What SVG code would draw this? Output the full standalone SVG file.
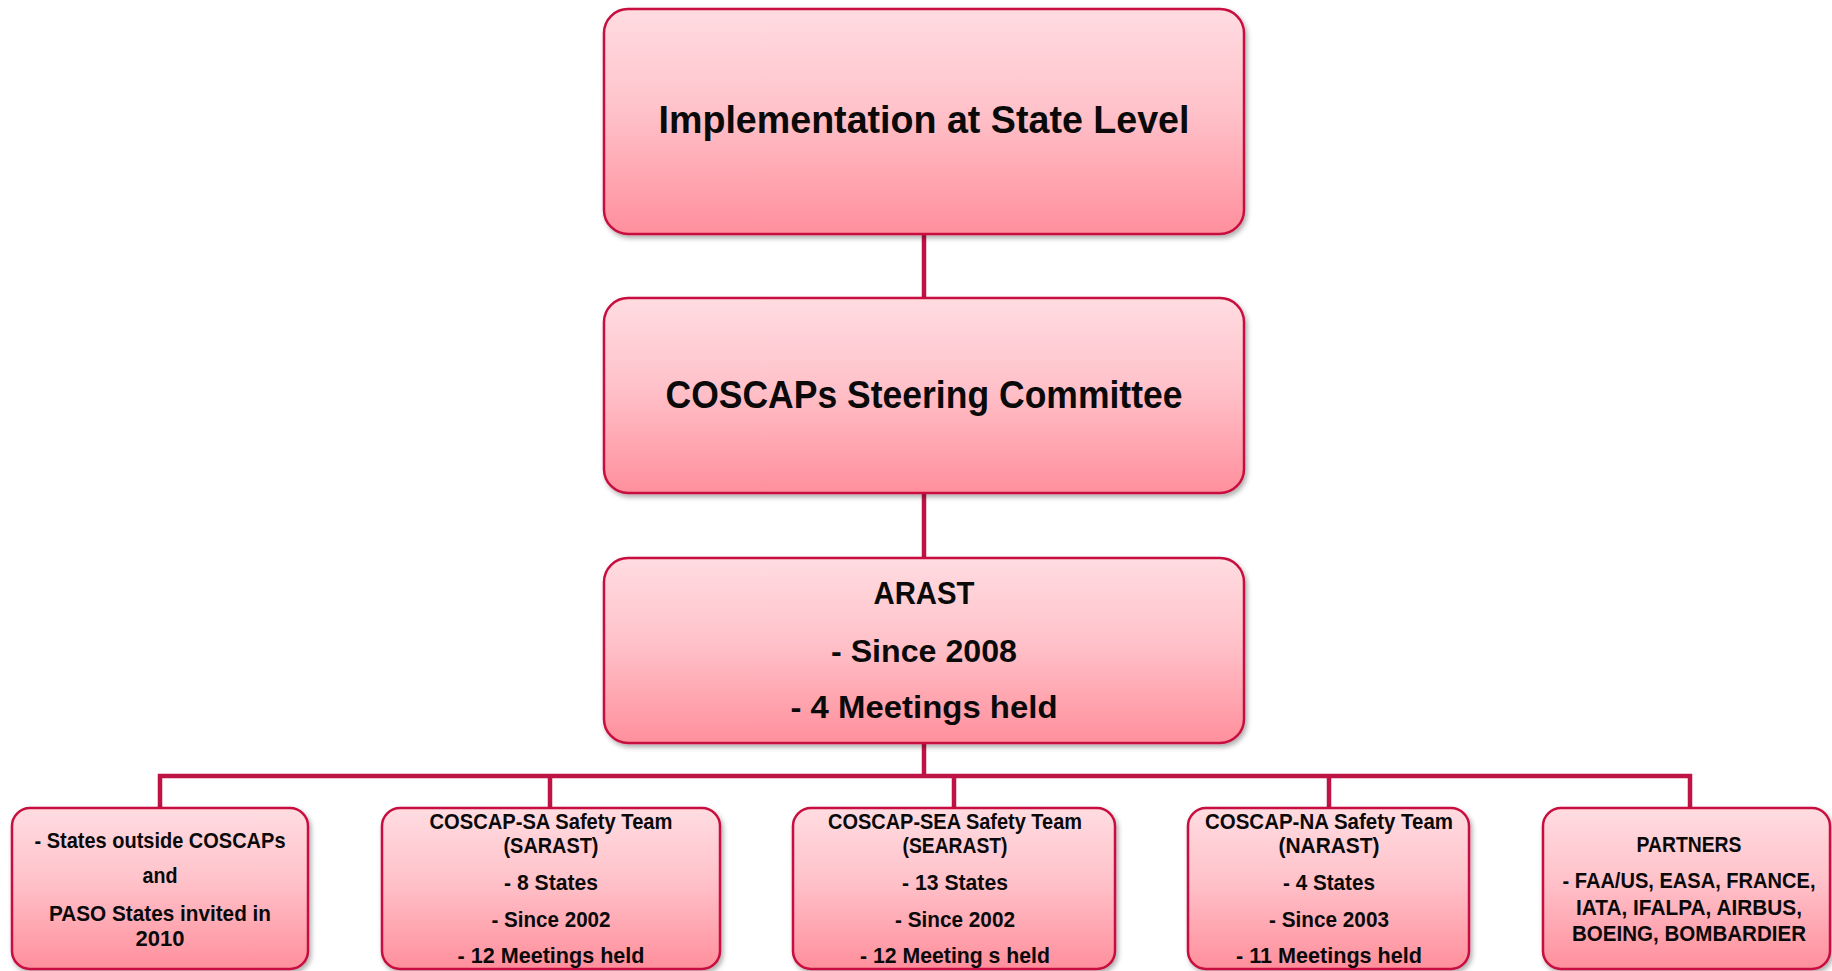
<svg xmlns="http://www.w3.org/2000/svg" width="1832" height="971" viewBox="0 0 1832 971">
  <defs>
    <linearGradient id="boxFill" x1="0" y1="0" x2="0" y2="1">
      <stop offset="0" stop-color="#FFDCE1"/>
      <stop offset="0.45" stop-color="#FFC2CA"/>
      <stop offset="1" stop-color="#FF8F9C"/>
    </linearGradient>
    <filter id="shadow" x="-5%" y="-5%" width="112%" height="120%">
      <feDropShadow dx="2" dy="3" stdDeviation="2.5" flood-color="#000" flood-opacity="0.32"/>
    </filter>
  </defs>
  <style>
    .box { fill: url(#boxFill); stroke: #C8103F; stroke-width: 2.5; filter: url(#shadow); }
    .link { fill: none; stroke: #BE1344; stroke-width: 4.5; stroke-linejoin: miter; stroke-linecap: butt; }
    text { font-family: "Liberation Sans", Arial, sans-serif; font-weight: bold; fill: #0A0A0A; text-anchor: middle; }
    .big { font-size: 39px; }
    .mid { font-size: 31px; }
    .small { font-size: 22px; }
  </style>
  <rect width="1832" height="971" fill="#FFFFFF"/>

  <!-- connectors -->
  <g id="connectors">
    <path class="link" d="M924,234 V298"/>
    <path class="link" d="M924,493 V558"/>
    <path class="link" d="M924,743 V776"/>
    <path class="link" d="M160,808 V776 H1690 V808"/>
    <path class="link" d="M550,776 V808"/>
    <path class="link" d="M954,776 V808"/>
    <path class="link" d="M1329,776 V808"/>
  </g>

  <g id="node-implementation">
    <rect class="box" x="604" y="9" width="640" height="225" rx="24"/>
    <text class="big" x="924" y="133" textLength="531" lengthAdjust="spacingAndGlyphs">Implementation at State Level</text>
  </g>

  <g id="node-steering">
    <rect class="box" x="604" y="298" width="640" height="195" rx="24"/>
    <text class="big" x="924" y="408" textLength="517" lengthAdjust="spacingAndGlyphs">COSCAPs Steering Committee</text>
  </g>

  <g id="node-arast">
    <rect class="box" x="604" y="558" width="640" height="185" rx="24"/>
    <text class="mid" x="924" y="604" textLength="101" lengthAdjust="spacingAndGlyphs">ARAST</text>
    <text class="mid" x="924" y="662" textLength="186" lengthAdjust="spacingAndGlyphs">- Since 2008</text>
    <text class="mid" x="924" y="718" textLength="267" lengthAdjust="spacingAndGlyphs">- 4 Meetings held</text>
  </g>

  <g id="node-outside">
    <rect class="box" x="12" y="808" width="296" height="161" rx="18"/>
    <text class="small" x="160" y="848" textLength="251" lengthAdjust="spacingAndGlyphs">- States outside COSCAPs</text>
    <text class="small" x="160" y="883" textLength="35" lengthAdjust="spacingAndGlyphs">and</text>
    <text class="small" x="160" y="921" textLength="222" lengthAdjust="spacingAndGlyphs">PASO States invited in</text>
    <text class="small" x="160" y="946" textLength="49" lengthAdjust="spacingAndGlyphs">2010</text>
  </g>

  <g id="node-sarast">
    <rect class="box" x="382" y="808" width="338" height="161" rx="18"/>
    <text class="small" x="551" y="829" textLength="243" lengthAdjust="spacingAndGlyphs">COSCAP-SA Safety Team</text>
    <text class="small" x="551" y="853" textLength="95" lengthAdjust="spacingAndGlyphs">(SARAST)</text>
    <text class="small" x="551" y="890" textLength="94" lengthAdjust="spacingAndGlyphs">- 8 States</text>
    <text class="small" x="551" y="927" textLength="119" lengthAdjust="spacingAndGlyphs">- Since 2002</text>
    <text class="small" x="551" y="963" textLength="187" lengthAdjust="spacingAndGlyphs">- 12 Meetings held</text>
  </g>

  <g id="node-searast">
    <rect class="box" x="793" y="808" width="322" height="161" rx="18"/>
    <text class="small" x="955" y="829" textLength="254" lengthAdjust="spacingAndGlyphs">COSCAP-SEA Safety Team</text>
    <text class="small" x="955" y="853" textLength="105" lengthAdjust="spacingAndGlyphs">(SEARAST)</text>
    <text class="small" x="955" y="890" textLength="106" lengthAdjust="spacingAndGlyphs">- 13 States</text>
    <text class="small" x="955" y="927" textLength="120" lengthAdjust="spacingAndGlyphs">- Since 2002</text>
    <text class="small" x="955" y="963" textLength="190" lengthAdjust="spacingAndGlyphs">- 12 Meeting s held</text>
  </g>

  <g id="node-narast">
    <rect class="box" x="1188" y="808" width="281" height="161" rx="18"/>
    <text class="small" x="1329" y="829" textLength="248" lengthAdjust="spacingAndGlyphs">COSCAP-NA Safety Team</text>
    <text class="small" x="1329" y="853" textLength="101" lengthAdjust="spacingAndGlyphs">(NARAST)</text>
    <text class="small" x="1329" y="890" textLength="92" lengthAdjust="spacingAndGlyphs">- 4 States</text>
    <text class="small" x="1329" y="927" textLength="120" lengthAdjust="spacingAndGlyphs">- Since 2003</text>
    <text class="small" x="1329" y="963" textLength="186" lengthAdjust="spacingAndGlyphs">- 11 Meetings held</text>
  </g>

  <g id="node-partners">
    <rect class="box" x="1543" y="808" width="287" height="161" rx="18"/>
    <text class="small" x="1689" y="852" textLength="105" lengthAdjust="spacingAndGlyphs">PARTNERS</text>
    <text class="small" x="1689" y="888" textLength="253" lengthAdjust="spacingAndGlyphs">- FAA/US, EASA, FRANCE,</text>
    <text class="small" x="1689" y="915" textLength="226" lengthAdjust="spacingAndGlyphs">IATA, IFALPA, AIRBUS,</text>
    <text class="small" x="1689" y="941" textLength="234" lengthAdjust="spacingAndGlyphs">BOEING, BOMBARDIER</text>
  </g>
</svg>
